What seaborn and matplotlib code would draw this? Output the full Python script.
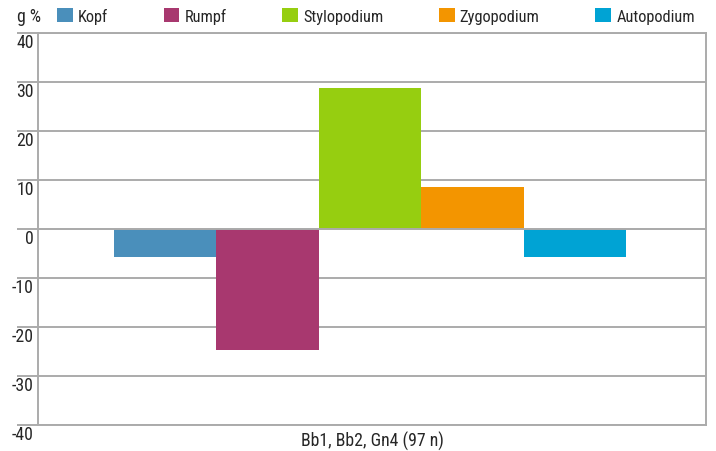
import matplotlib
matplotlib.use("Agg")
import matplotlib.pyplot as plt
import matplotlib.font_manager as fm
import seaborn as sns
import pandas as pd
from matplotlib.patches import Patch

# Data
group = "Bb1, Bb2, Gn4 (97 n)"
segments = ["Kopf", "Rumpf", "Stylopodium", "Zygopodium", "Autopodium"]
values = [-5.7, -24.7, 28.8, 8.6, -5.7]
colors = ["#4A8FBB", "#A8386F", "#96CE10", "#F39500", "#00A3D4"]
yticks = [-40, -30, -20, -10, 0, 10, 20, 30, 40]

df = pd.DataFrame({"group": [group] * len(segments), "segment": segments, "value": values})

sns.set_theme(style="white")

# prefer a narrow face for the labels
installed = {f.name for f in fm.fontManager.ttflist}
narrow = [n for n in ["Roboto Condensed", "Liberation Sans Narrow", "DejaVu Sans Condensed",
                      "Lato", "Roboto"] if n in installed]
plt.rcParams["font.family"] = narrow[:1] + ["DejaVu Sans"]
FS_AX = 12.8
FS_LEG = 11.8

grid_col = "#ababab"
txt_col = "#262626"

fig = plt.figure(figsize=(7.16, 4.52), dpi=100)
ax = fig.add_axes([38 / 716, 1 - 426 / 452, (706 - 38) / 716, (426 - 34) / 452])

sns.barplot(data=df, x="group", y="value", hue="segment", hue_order=segments,
            palette=colors, width=0.766, gap=0, linewidth=0, saturation=1,
            legend=False, ax=ax, zorder=2)

ax.set_ylim(-40, 40)
ax.set_xlim(-0.497, 0.503)
ax.set_yticks(yticks)
ax.set_yticklabels([str(v) for v in yticks])
ax.yaxis.grid(True, color=grid_col, linewidth=1.4, zorder=0)
ax.set_axisbelow(True)
ax.axhline(0, color=grid_col, linewidth=1.4, zorder=3)

# gridlines run a little past the left spine
ax.hlines(yticks, -21 / 668, 0, transform=ax.get_yaxis_transform(),
          color=grid_col, linewidth=1.4, clip_on=False)

for s in ax.spines.values():
    s.set_color(grid_col)
    s.set_linewidth(1.4)

ax.tick_params(axis="y", which="major", length=0, pad=3,
               labelsize=FS_AX, labelcolor=txt_col, left=False)
for lab in ax.get_yticklabels():
    lab.set_verticalalignment("top")
    lab.set_horizontalalignment("right")

ax.tick_params(axis="x", bottom=False, labelbottom=False)
ax.set_xlabel(group, fontsize=FS_AX, color=txt_col, labelpad=4)
ax.set_ylabel("")

fig.text(17 / 716, 1 - 17 / 452, "g %", fontsize=FS_AX, color=txt_col, va="center", ha="left")

handles = [Patch(facecolor=c, edgecolor="none") for c in colors]
fig.legend(handles, segments, ncol=5, loc="center left",
           bbox_to_anchor=(57 / 716, 1 - 17 / 452), frameon=False,
           handlelength=0.95, handleheight=0.95, handletextpad=0.32,
           columnspacing=3.4, fontsize=FS_LEG, borderaxespad=0, borderpad=0,
           labelcolor=txt_col)

fig.savefig("out.png", dpi=100)
